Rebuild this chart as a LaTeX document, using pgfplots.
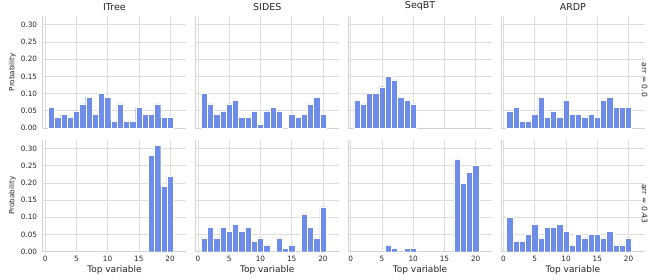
\documentclass[border=0pt]{standalone}
\usepackage{pgfplots}
\pgfplotsset{compat=1.18}
\usepackage{fontspec}
\setmainfont{DejaVu Sans}
\definecolor{barc}{RGB}{110,141,233}
\definecolor{gridc}{RGB}{222,222,222}
\definecolor{spinec}{RGB}{210,210,210}
\definecolor{txt}{RGB}{38,38,38}
\pgfplotsset{
  facet/.style={
    scale only axis, width=143.75pt, height=112pt,
    xmin=-0.4, xmax=22.6, ymin=0, ymax=0.3255,
    xtick={0,5,10,15,20}, ytick={0,0.05,0.10,0.15,0.20,0.25,0.30},
    grid=major, major grid style={gridc, line width=0.6pt},
    axis x line*=bottom, axis y line*=left,
    axis line style={spinec, line width=0.8pt, -},
    major tick length=0pt,
    tick label style={font=\fontsize{7.3}{8}\selectfont, text=txt},
    /pgf/number format/assume math mode=true,
    yticklabel style={/pgf/number format/fixed, /pgf/number format/fixed zerofill, /pgf/number format/precision=2, xshift=-2pt},
    xticklabel style={yshift=-1pt},
    title style={font=\fontsize{9.5}{11}\selectfont, text=txt, yshift=-4.5pt},
    xlabel style={font=\fontsize{9}{10}\selectfont, text=txt, yshift=3pt},
    ylabel style={font=\fontsize{7.2}{8}\selectfont, text=txt, yshift=-2pt},
    anchor=south west, clip=false,
  },
  bars/.style={ybar, bar width=1, bar shift=0pt, fill=barc, draw=white, line width=0.4pt},
  row1/.style={xticklabels={}},
  inner/.style={yticklabels={}},
}
\begin{document}
\begin{tikzpicture}
\useasboundingbox (0pt,0pt) rectangle (664pt,279pt);
% Row 1 (arr = 0.0)
\begin{axis}[facet, row1, at={(42.6pt,151pt)}, title={ITree}, ylabel={Probability}]
\addplot[bars] coordinates {(1,0.06)(2,0.03)(3,0.04)(4,0.03)(5,0.05)(6,0.07)(7,0.09)(8,0.04)(9,0.10)(10,0.09)(11,0.02)(12,0.07)(13,0.02)(14,0.02)(15,0.06)(16,0.04)(17,0.04)(18,0.07)(19,0.03)(20,0.03)};
\end{axis}
\begin{axis}[facet, row1, inner, at={(195.4pt,151pt)}, title={SIDES}]
\addplot[bars] coordinates {(1,0.10)(2,0.07)(3,0.04)(4,0.05)(5,0.07)(6,0.08)(7,0.03)(8,0.03)(9,0.05)(10,0.01)(11,0.05)(12,0.06)(13,0.05)(15,0.04)(16,0.03)(17,0.04)(18,0.07)(19,0.09)(20,0.04)};
\end{axis}
\begin{axis}[facet, row1, inner, at={(348.2pt,151pt)}, title={SeqBT}]
\addplot[bars] coordinates {(1,0.08)(2,0.07)(3,0.10)(4,0.10)(5,0.12)(6,0.15)(7,0.14)(8,0.09)(9,0.08)(10,0.07)};
\end{axis}
\begin{axis}[facet, row1, inner, at={(501pt,151pt)}, title={ARDP}]
\addplot[bars] coordinates {(1,0.05)(2,0.06)(3,0.02)(4,0.02)(5,0.04)(6,0.09)(7,0.03)(8,0.05)(9,0.03)(10,0.08)(11,0.04)(12,0.04)(13,0.03)(14,0.04)(15,0.03)(16,0.08)(17,0.09)(18,0.06)(19,0.06)(20,0.06)};
\node[rotate=-90, font=\fontsize{7.6}{8}\selectfont, text=txt] at (rel axis cs:1,0.5) [xshift=8pt] {arr = 0.0};
\end{axis}
% Row 2 (arr = 0.43)
\begin{axis}[facet, at={(42.6pt,27.3pt)}, ylabel={Probability}, xlabel={Top variable}]
\addplot[bars] coordinates {(17,0.28)(18,0.31)(19,0.19)(20,0.22)};
\end{axis}
\begin{axis}[facet, inner, at={(195.4pt,27.3pt)}, xlabel={Top variable}]
\addplot[bars] coordinates {(1,0.04)(2,0.07)(3,0.04)(4,0.07)(5,0.06)(6,0.08)(7,0.06)(8,0.07)(9,0.03)(10,0.04)(11,0.02)(13,0.04)(14,0.01)(15,0.02)(17,0.11)(18,0.07)(19,0.04)(20,0.13)};
\end{axis}
\begin{axis}[facet, inner, at={(348.2pt,27.3pt)}, xlabel={Top variable}]
\addplot[bars] coordinates {(6,0.02)(7,0.01)(9,0.01)(10,0.01)(17,0.27)(18,0.20)(19,0.23)(20,0.25)};
\end{axis}
\begin{axis}[facet, inner, at={(501pt,27.3pt)}, xlabel={Top variable}]
\addplot[bars] coordinates {(1,0.10)(2,0.03)(3,0.03)(4,0.05)(5,0.08)(6,0.04)(7,0.07)(8,0.07)(9,0.08)(10,0.06)(11,0.02)(12,0.05)(13,0.04)(14,0.05)(15,0.05)(16,0.04)(17,0.06)(18,0.02)(19,0.02)(20,0.04)};
\node[rotate=-90, font=\fontsize{7.6}{8}\selectfont, text=txt] at (rel axis cs:1,0.5) [xshift=8pt] {arr = 0.43};
\end{axis}
\end{tikzpicture}
\end{document}
